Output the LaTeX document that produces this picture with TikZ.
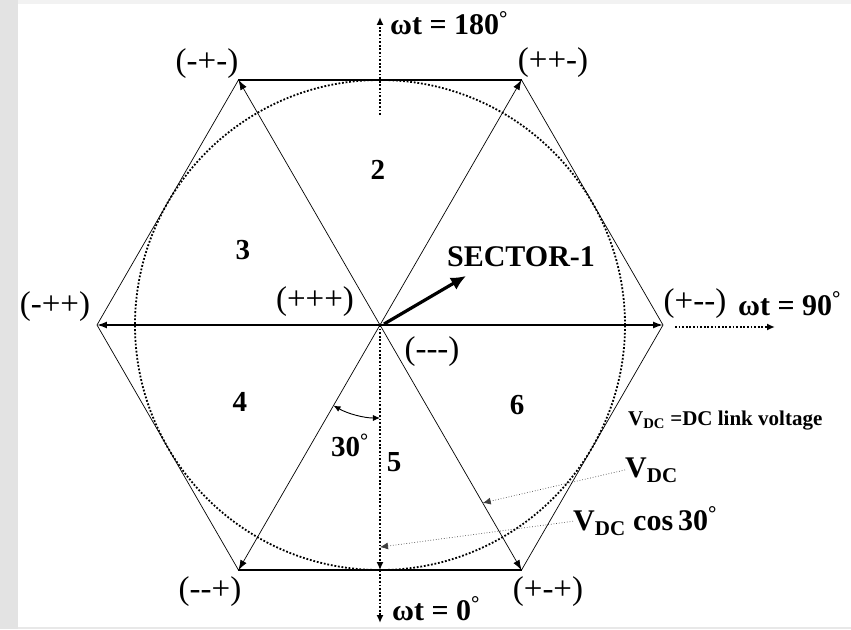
\documentclass[tikz,border=0pt]{standalone}
\usepackage{fontspec}
\setmainfont{Liberation Serif}
\usetikzlibrary{calc,arrows.meta}

\newcommand{\degsup}{\textsuperscript{°}}
\newcommand{\vdc}{V\textsubscript{DC}}

\tikzset{
  dots/.style={line width=1.8pt, dash pattern=on 1.8pt off 1.8pt},
  hexedge/.style={line width=0.7pt},
  vec/.style={line width=0.7pt, -{Latex[length=10pt,width=7pt]}},
  axisdot/.style={dots, -{Latex[length=8pt,width=7pt]}},
  pointer/.style={line width=0.7pt, dotted, black!75, -{Latex[length=8pt,width=7pt]}},
  state/.style={font=\fontsize{33}{33}\selectfont, inner sep=0pt},
  sector/.style={font=\fontsize{29}{29}\selectfont\bfseries, inner sep=0pt},
  note/.style={font=\fontsize{30}{30}\selectfont\bfseries, inner sep=0pt},
}

\begin{document}
\begin{tikzpicture}[x=1pt, y=1pt]
  \fill[white] (-380.0, -304.0) rectangle (471.0, 325.0);
  \fill[black!11] (-380.0, -304.0) rectangle (-362.0, 325.0);
  \fill[black!5] (-362.0, 321.0) rectangle (471.0, 325.0);
  \fill[black!9] (-362.0, -304.0) rectangle (471.0, -302.0);

  \coordinate (O) at (0.0, 0.0);
  \coordinate (A) at (283.0, 0.0);
  \coordinate (B) at (141.5, 245.1);
  \coordinate (C) at (-141.5, 245.1);
  \coordinate (D) at (-283.0, 0.0);
  \coordinate (E) at (-141.5, -245.1);
  \coordinate (F) at (141.5, -245.1);
  \coordinate (M) at (0.0, -245.1);

  \draw[dots] (O) circle (245);

  \draw[hexedge] (A) -- (B);
  \draw[hexedge, line width=1.7pt] (B) -- (C);
  \draw[hexedge] (C) -- (D) -- (E);
  \draw[hexedge, line width=1.7pt] (E) -- (F);
  \draw[hexedge] (F) -- (A);

  \draw[vec, line width=1.5pt] (O) -- (A);
  \draw[vec] (O) -- (B);
  \draw[vec] (O) -- (C);
  \draw[vec, line width=1.5pt] (O) -- (D);
  \draw[vec] (O) -- (E);
  \draw[vec] (O) -- (F);

  \coordinate (T0) at (0.0, 210.0);
  \coordinate (T1) at (0.0, 308.0);
  \coordinate (R0) at (295.0, -2.0);
  \coordinate (R1) at (395.0, -2.0);
  \coordinate (B1) at (0.0, -298.0);
  \draw[axisdot] (T0) -- (T1);
  \draw[axisdot] (R0) -- (R1);
  \draw[axisdot] (O) -- (M);
  \draw[axisdot] (M) -- (B1);

  \draw[line width=0.9pt, {Latex[length=7pt,width=6pt]}-{Latex[length=7pt,width=6pt]}]
    ($(O)+(240:93)$) arc[start angle=240, end angle=270, radius=93];

  \coordinate (S0) at (4.0, 1.0);
  \coordinate (S1) at (86.0, 49.0);
  \draw[line width=3.2pt, -{Latex[length=15pt,width=14pt]}] (S0) -- (S1);

  \node[state] (sC) at (-173.0, 261.0) {(-+-)};
  \node[state] (sB) at (173.0, 262.0) {(++-)};
  \node[state] (sD) at (-325.0, 18.0) {(-++)};
  \node[state] (sP) at (-65.0, 23.0) {(+++)};
  \node[state] (sN) at (52.0, -27.0) {(-{}-{}-)};
  \node[state] (sA) at (315.0, 21.0) {(+-{}-)};
  \node[state] (sE) at (-170.0, -267.0) {(-{}-+)};
  \node[state] (sF) at (168.0, -267.0) {(+-+)};

  \node[note, anchor=base west] (w180) at (10.0, 290.0) {ωt = 180\degsup};
  \node[note, anchor=base west] (w90) at (358.0, 10.0) {ωt = 90\degsup};
  \node[note, anchor=base west] (w0) at (12.0, -295.0) {ωt = 0\degsup};

  \node[sector] (n2) at (-2.0, 155.0) {2};
  \node[sector] (n3) at (-137.0, 75.0) {3};
  \node[sector] (n4) at (-140.0, -77.0) {4};
  \node[sector] (n5) at (14.0, -137.0) {5};
  \node[sector] (n6) at (137.0, -80.0) {6};
  \node[sector] (ang) at (-30.0, -120.0) {30\degsup};
  \node[note] (sec1) at (141.0, 68.0) {SECTOR-1};

  \node[font=\fontsize{21}{21}\selectfont\bfseries, inner sep=0pt, anchor=base west]
    (link) at (248.0, -100.0) {\vdc\ =DC link voltage};
  \node[note, anchor=base west] (vdc) at (245.0, -152.0) {\vdc};
  \node[note, anchor=base west] (vcos) at (193.0, -205.0) {\vdc\ cos\,30\degsup};

  \coordinate (P1) at ($(O)!0.726!(F)$);
  \coordinate (P2) at ($(O)!0.906!(M)$);
  \draw[pointer] (vdc.west) -- (P1);
  \draw[pointer] (vcos.west) -- (P2);
\end{tikzpicture}
\end{document}
